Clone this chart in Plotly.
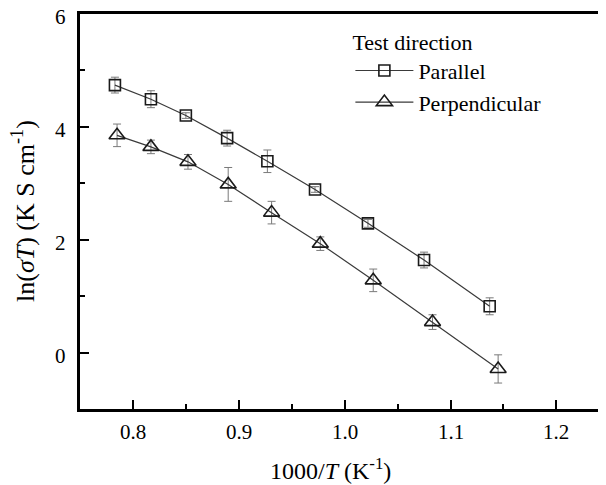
import plotly.graph_objects as go

# Data
x_par = [0.783, 0.817, 0.850, 0.889, 0.927, 0.972, 1.022, 1.075, 1.137]
y_par = [4.74, 4.49, 4.20, 3.80, 3.39, 2.89, 2.29, 1.64, 0.82]
e_par = [0.14, 0.15, 0.05, 0.14, 0.20, 0.05, 0.07, 0.14, 0.15]

x_perp = [0.785, 0.817, 0.852, 0.890, 0.931, 0.977, 1.027, 1.083, 1.145]
y_perp = [3.85, 3.645, 3.38, 2.98, 2.48, 1.93, 1.28, 0.54, -0.29]
e_perp = [0.20, 0.12, 0.13, 0.30, 0.20, 0.12, 0.20, 0.13, 0.25]

x_ticks = [0.8, 0.9, 1.0, 1.1, 1.2]
y_ticks = [0, 2, 4, 6]

series_names = ["Parallel", "Perpendicular"]
legend_title = "Test direction"
x_title = "1000/<i>T</i> (K<sup>-1</sup>)"
y_title = "ln(<i>σT</i>) (K S cm<sup>-1</sup>)"

FONT = "Liberation Serif"
LINE_C = "#3a3a3a"
MARK_C = "#1a1a1a"
ERR_C = "#7a7a7a"

fig = go.Figure()
fig.add_trace(go.Scatter(
    x=x_par, y=y_par, name=series_names[0], mode="lines+markers",
    line=dict(color=LINE_C, width=1.2),
    marker=dict(symbol="square-open", size=11, color=MARK_C, line=dict(width=1.6, color=MARK_C)),
    error_y=dict(type="data", array=e_par, visible=True, color=ERR_C, thickness=1, width=4),
))
fig.add_trace(go.Scatter(
    x=x_perp, y=y_perp, name=series_names[1], mode="lines+markers",
    line=dict(color=LINE_C, width=1.2),
    marker=dict(symbol="triangle-up-open", size=14, color=MARK_C, line=dict(width=1.6, color=MARK_C)),
    error_y=dict(type="data", array=e_perp, visible=True, color=ERR_C, thickness=1, width=4),
))

fig.add_shape(type="line", xref="paper", yref="paper", x0=1, x1=1, y0=0, y1=1,
              line=dict(color="#d8d8d8", width=1))

# x tick labels placed just under the axis
for v in x_ticks:
    fig.add_annotation(x=v, xref="x", y=-0.058, yref="paper", text=f"{v:.1f}",
                       showarrow=False, xanchor="center", yanchor="middle",
                       font=dict(family=FONT, size=21, color="black"))

# y tick labels left of the axis
for v in y_ticks:
    fig.add_annotation(x=-0.023, xref="paper", y=v, yref="y", text=str(v),
                       showarrow=False, xanchor="right", yanchor="middle", yshift=-3,
                       font=dict(family=FONT, size=21, color="black"))

# axis titles
fig.add_annotation(x=0.479, xref="paper", y=-0.152, yref="paper", text=x_title,
                   showarrow=False, xanchor="center", yanchor="middle",
                   font=dict(family=FONT, size=24, color="black"))
fig.add_annotation(x=-0.109, xref="paper", y=0.501, yref="paper", text=y_title,
                   showarrow=False, xanchor="center", yanchor="middle", textangle=-90,
                   font=dict(family=FONT, size=26, color="black"))

# page body adds an 8px offset, so the figure is 8px smaller
fig.update_layout(
    width=598, height=477,
    margin=dict(l=72, r=2, t=6, b=76),
    plot_bgcolor="white", paper_bgcolor="white",
    font=dict(family=FONT, size=20, color="black"),
    showlegend=True,
    legend=dict(
        x=0.516, y=0.982, xanchor="left", yanchor="top",
        bgcolor="rgba(0,0,0,0)", borderwidth=0,
        font=dict(family=FONT, size=22, color="black"),
        title=dict(text=legend_title, font=dict(family=FONT, size=22, color="black")),
        tracegroupgap=0, itemwidth=58,
    ),
    xaxis=dict(
        range=[0.75, 1.245], showgrid=False, zeroline=False,
        showline=True, linecolor="black", linewidth=2.5, mirror=True,
        ticks="inside", ticklen=9, tickwidth=2, tickcolor="black",
        tickvals=x_ticks, showticklabels=False,
        minor=dict(ticks="inside", ticklen=5, tickwidth=2, tickcolor="black",
                   tickvals=[0.85, 0.95, 1.05, 1.15]),
    ),
    yaxis=dict(
        range=[-1, 6], showgrid=False, zeroline=False,
        showline=True, linecolor="black", linewidth=2.5,
        ticks="inside", ticklen=9, tickwidth=2, tickcolor="black",
        tickvals=y_ticks, showticklabels=False,
        minor=dict(ticks="inside", ticklen=5, tickwidth=2, tickcolor="black",
                   tickvals=[1, 3, 5]),
    ),
)

fig.write_html("out.html")
